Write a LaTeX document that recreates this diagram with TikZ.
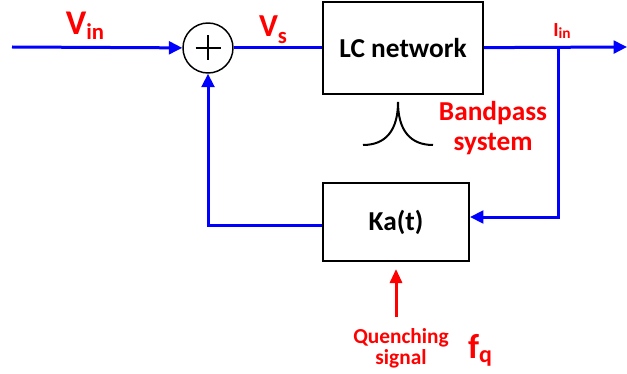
\documentclass[tikz,border=0pt]{standalone}
\usepackage{fontspec}
\setmainfont{Carlito}
\usetikzlibrary{arrows.meta,positioning,calc}

\newcommand{\blockfont}{\fontsize{20.5}{22.5}\selectfont\bfseries}
\newcommand{\quenchfont}{\fontsize{16}{16}\selectfont\bfseries}
\newcommand{\lowsub}[3]{\raisebox{-#2}{\fontsize{#1}{#1}\selectfont #3}}

\begin{document}
\begin{tikzpicture}[x=0.75pt, y=-0.75pt,
        block/.style={draw, line width=1.5pt, inner sep=0pt, font=\blockfont},
        summer/.style={draw, circle, line width=1.1pt, minimum size=37.5pt, inner sep=0pt},
        wire/.style={blue, line width=2.25pt},
        sigline/.style={wire, -{Triangle[length=10pt,width=9.5pt]}},
        quench/.style={red, line width=2.25pt, -{Triangle[length=10.5pt,width=9pt]}},
        lbl/.style={red, inner sep=0pt, font=\bfseries}
    ]
        \useasboundingbox (0,0) rectangle (627,374);

        % blocks
        \node[summer] (sum) at (208,48) {};
        \draw[line width=1.1pt] ($(sum.center)+(-12.5,0)$) -- ++(25,0)
            ($(sum.center)+(0,-12.5)$) -- ++(0,25);
        \node[block, minimum width=120pt, minimum height=69pt] (lc) at (403,48) {LC network};
        \node[block, minimum width=109.5pt, minimum height=58.5pt] (ka) at (396,222) {Ka(t)};

        % free ends
        \coordinate (vinstart) at (12,47);
        \coordinate (out) at (627,47);
        \coordinate (tap) at (558,47);
        \coordinate (qtail) at (396,317);

        % signals
        \draw[sigline] (vinstart) -- (sum);
        \draw[wire] (sum) -- (lc);
        \draw[sigline] (lc) -- (out);
        \draw[sigline] (tap) |- ([yshift=3.75pt]ka.east);
        \draw[sigline] ([yshift=-2.25pt]ka.west) -| (sum);
        \draw[quench] (qtail) -- ([yshift=-5.25pt]ka.south);

        % bandpass response
        \draw[line width=1.5pt] (363,145) .. controls (386,145) and (398,130) .. (398,102)
            .. controls (398,130) and (410,145) .. (433,145);

        % labels
        \node[lbl] (vin) at (85,26) {\fontsize{26}{26}\selectfont V\lowsub{17}{4pt}{in}};
        \node[lbl] (vs) at (273,30) {\fontsize{24}{24}\selectfont V\lowsub{17}{5pt}{s}};
        \node[lbl] (iin) at (562,31) {\fontsize{15}{15}\selectfont I\lowsub{11.5}{2pt}{in}};
        \node[lbl, align=center, font=\blockfont] (bp) at (493,128) {Bandpass\\system};
        \node[lbl, align=center, font=\quenchfont] (qlabel) at (401,348) {Quenching\\signal};
        \node[lbl] (fq) at (480,350) {\fontsize{26}{26}\selectfont f\lowsub{18}{3pt}{q}};
    \end{tikzpicture}
\end{document}
